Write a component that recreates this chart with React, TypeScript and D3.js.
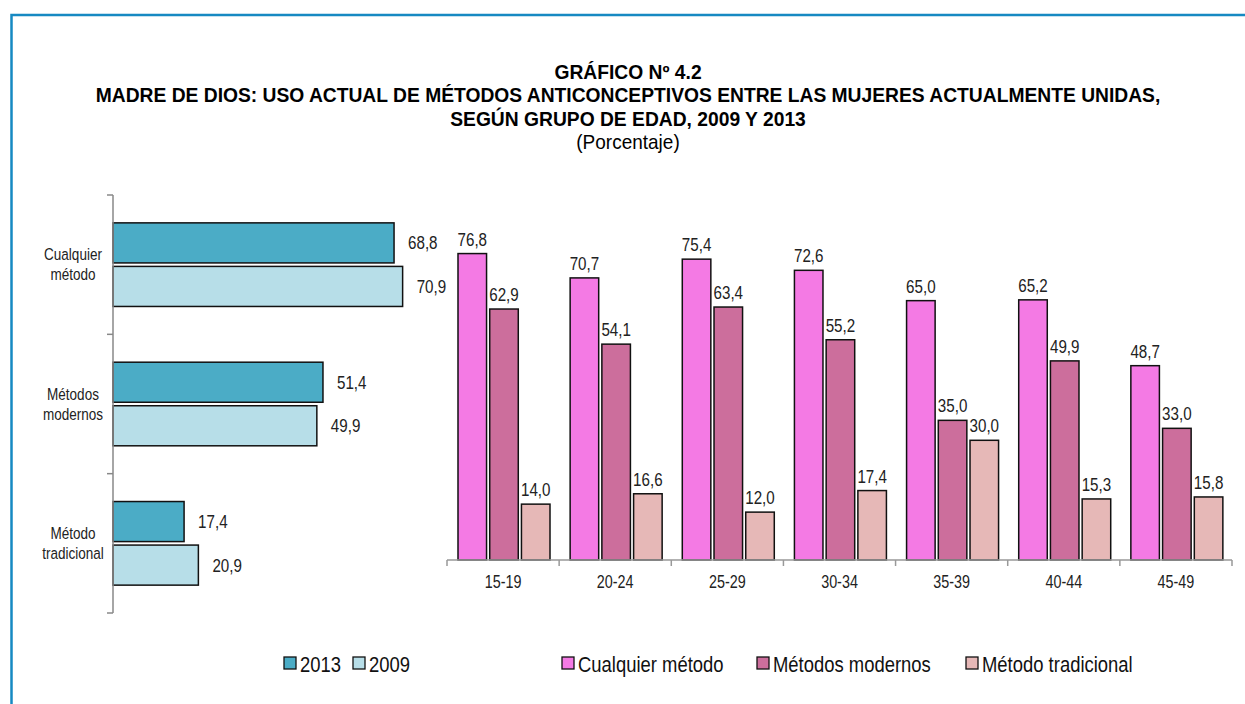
import { useEffect, useRef } from 'react';
import * as d3 from 'd3';

// left panel: total by method, 2013 vs 2009
const methods = ['Cualquier método', 'Métodos modernos', 'Método tradicional'];
const methodLines = [['Cualquier', 'método'], ['Métodos', 'modernos'], ['Método', 'tradicional']];
const years = ['2013', '2009'];
const values2013 = [68.8, 51.4, 17.4];
const values2009 = [70.9, 49.9, 20.9];

// right panel: by age group
const ageGroups = ['15-19', '20-24', '25-29', '30-34', '35-39', '40-44', '45-49'];
const cualquier = [76.8, 70.7, 75.4, 72.6, 65.0, 65.2, 48.7];
const modernos = [62.9, 54.1, 63.4, 55.2, 35.0, 49.9, 33.0];
const tradicional = [14.0, 16.6, 12.0, 17.4, 30.0, 15.3, 15.8];

const titleLines = [
  'GRÁFICO Nº 4.2',
  'MADRE DE DIOS: USO ACTUAL DE MÉTODOS ANTICONCEPTIVOS ENTRE LAS MUJERES ACTUALMENTE UNIDAS,',
  'SEGÚN GRUPO DE EDAD, 2009 Y 2013',
];
const subtitle = '(Porcentaje)';

const yearColors = ['#4bacc6', '#b7dee8'];
const methodColors = ['#f47ae4', '#cc6e9c', '#e6b8b7'];

// Arial Narrow look: Liberation Sans squeezed horizontally
const FONT = "'Liberation Sans', Arial, sans-serif";
const NARROW = 0.82;
const fmt = (v: number) => v.toFixed(1).replace('.', ',');

type Sel = d3.Selection<any, any, any, any>;
const narrowText = (parent: Sel, x: number, y: number, txt: string, size: number,
  anchor = 'start', weight = 'normal', fill = '#222', sx = NARROW) =>
  parent.append('text')
    .attr('transform', `translate(${x},${y}) scale(${sx},1)`)
    .attr('text-anchor', anchor)
    .attr('font-size', size)
    .attr('font-weight', weight)
    .attr('fill', fill)
    .text(txt);

export default function App() {
  const svgRef = useRef<SVGSVGElement>(null);

  useEffect(() => {
    const svg = d3.select(svgRef.current);
    svg.selectAll('*').remove();
    svg.style('font-family', FONT);

    // frame
    svg.append('rect')
      .attr('x', 11.5).attr('y', 15).attr('width', 1260).attr('height', 720)
      .attr('fill', 'none').attr('stroke', '#1689c2').attr('stroke-width', 2.5);

    // titles
    titleLines.forEach((t, i) => {
      narrowText(svg, 628, 79 + i * 23.3, t, 20, 'middle', 'bold', '#000', 0.963);
    });
    narrowText(svg, 628, 149, subtitle, 20, 'middle', 'normal', '#000', 0.95);

    // ---------- left panel ----------
    const left = svg.append('g');
    const yBand = d3.scaleBand().domain(methods).range([195, 613]).padding(0);
    const ySub = d3.scaleBand().domain(years)
      .range([yBand.bandwidth() * 0.2, yBand.bandwidth() * 0.8]).paddingInner(0.08);
    const xL = d3.scaleLinear().domain([0, 80]).range([113, 113 + 80 * 4.085]);

    methods.forEach((m, i) => {
      const g = left.append('g').attr('transform', `translate(0,${yBand(m)})`);
      const vals = [values2013[i], values2009[i]];
      vals.forEach((v, j) => {
        g.append('rect')
          .attr('x', xL(0))
          .attr('y', ySub(years[j])!)
          .attr('width', xL(v) - xL(0))
          .attr('height', ySub.bandwidth())
          .attr('fill', yearColors[j])
          .attr('stroke', '#111').attr('stroke-width', 1.5);
        narrowText(g, xL(v) + 14, ySub(years[j])! + ySub.bandwidth() / 2 + 6.5, fmt(v), 18.5);
      });
      methodLines[i].forEach((line, k) => {
        narrowText(g, 73, yBand.bandwidth() / 2 + (k - 0.5) * 20 + 5.5, line, 16.5, 'middle');
      });
    });

    // axis line with boundary ticks between categories
    const bounds = [195, ...methods.map(m => yBand(m)! + yBand.bandwidth())];
    left.append('line')
      .attr('x1', xL(0)).attr('x2', xL(0)).attr('y1', 195).attr('y2', 613)
      .attr('stroke', '#888').attr('stroke-width', 1.5);
    left.selectAll('line.tk').data(bounds).enter().append('line')
      .attr('x1', xL(0) - 6).attr('x2', xL(0)).attr('y1', d => d).attr('y2', d => d)
      .attr('stroke', '#888').attr('stroke-width', 1.5);

    // ---------- right panel ----------
    const right = svg.append('g');
    const x0 = d3.scaleBand().domain(ageGroups).range([447, 1232]).padding(0);
    const x1 = d3.scaleBand().domain(methods).range([11, 103]).paddingInner(0.1);
    const yR = d3.scaleLinear().domain([0, 80]).range([560, 560 - 80 * 3.99]);
    const series = [cualquier, modernos, tradicional];

    ageGroups.forEach((a, i) => {
      const g = right.append('g').attr('transform', `translate(${x0(a)},0)`);
      series.forEach((s, j) => {
        const v = s[i];
        g.append('rect')
          .attr('x', x1(methods[j])!)
          .attr('y', yR(v))
          .attr('width', x1.bandwidth())
          .attr('height', yR(0) - yR(v))
          .attr('fill', methodColors[j])
          .attr('stroke', '#111').attr('stroke-width', 1.5);
        narrowText(g, x1(methods[j])! + x1.bandwidth() / 2, yR(v) - 8, fmt(v), 18.5, 'middle');
      });
      narrowText(g, x0.bandwidth() / 2, yR(0) + 28, a, 17.5, 'middle');
    });

    right.append('line')
      .attr('x1', 447).attr('x2', 1232).attr('y1', yR(0)).attr('y2', yR(0))
      .attr('stroke', '#999').attr('stroke-width', 1.5);
    const xb = [447, ...ageGroups.map(a => x0(a)! + x0.bandwidth())];
    right.selectAll('line.tk').data(xb).enter().append('line')
      .attr('x1', d => d).attr('x2', d => d).attr('y1', yR(0)).attr('y2', yR(0) + 6)
      .attr('stroke', '#999').attr('stroke-width', 1.5);

    // ---------- legends ----------
    const legend = (items: string[], colors: string[], xs: number[]) => {
      const lg = svg.append('g');
      items.forEach((t, i) => {
        lg.append('rect')
          .attr('x', xs[i]).attr('y', 657).attr('width', 12).attr('height', 12)
          .attr('fill', colors[i]).attr('stroke', '#111').attr('stroke-width', 1.3);
        narrowText(lg, xs[i] + 16, 671.5, t, 22.5, 'start', 'normal', '#111');
      });
    };
    legend(years, yearColors, [284, 353]);
    legend(methods, methodColors, [562, 757, 966]);
  }, []);

  return (
    <svg ref={svgRef} width={1245} height={704}
      style={{ position: 'absolute', left: 0, top: 0, background: '#fff' }} />
  );
}
